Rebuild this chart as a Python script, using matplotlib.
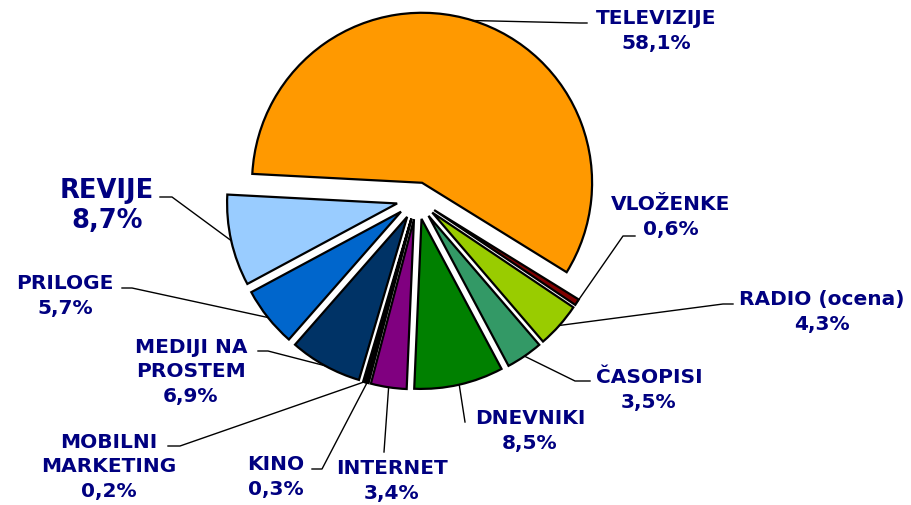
import numpy as np
import matplotlib
matplotlib.use('Agg')
import matplotlib.pyplot as plt

labels = ['TELEVIZIJE', 'VLOŽENKE', 'RADIO (ocena)', 'ČASOPISI', 'DNEVNIKI', 'INTERNET',
          'KINO', 'MOBILNI\nMARKETING', 'MEDIJI NA\nPROSTEM', 'PRILOGE', 'REVIJE']
shares = [58.1, 0.6, 4.3, 3.5, 8.5, 3.4, 0.3, 0.2, 6.9, 5.7, 8.7]
colors = ['#FF9900', '#800000', '#99CC00', '#339966', '#008000', '#800080',
          '#000000', '#111111', '#003366', '#0066CC', '#99CCFF']
explode = [0.1, 0.12, 0.12, 0.12, 0.12, 0.12, 0.12, 0.12, 0.12, 0.12, 0.12]

# label layout in pixels: block centre, elbow of the leader, end of the leader
text_px = [(656, 31), (671, 217), (822, 312), (649, 390), (530, 431), (392, 481),
           (276, 477), (109, 467), (191, 372), (65, 296), (107, 206)]
elbow_px = [(580, 24), (623, 237), (723, 305), (575, 382), (465, 423), (384, 453),
            (322, 470), (180, 447), (268, 352), (132, 289), (172, 198)]
end_px = [(587, 24), (635, 237), (733, 305), (590, 382), (465, 423), (384, 453),
          (312, 470), (168, 447), (258, 352), (122, 289), (160, 198)]

W, H = 912, 506
cx, cy, R = 417, 200, 170  # pie centre and radius in pixels


def to_data(p):
    return ((p[0] - cx) / R, (cy - p[1]) / R)


fig = plt.figure(figsize=(W / 100, H / 100), dpi=100)
ax = fig.add_axes([0, 0, 1, 1])
wedges, _ = ax.pie(shares, colors=colors, explode=explode, startangle=177,
                   counterclock=False, radius=1,
                   wedgeprops=dict(edgecolor='black', linewidth=1.6))
ax.set_xlim(-cx / R, (W - cx) / R)
ax.set_ylim(-(H - cy) / R, cy / R)
ax.set_aspect('equal')
ax.axis('off')

navy = '#000080'
for i, w in enumerate(wedges):
    mid = np.deg2rad((w.theta1 + w.theta2) / 2)
    ox, oy = w.center
    anchor = (ox + w.r * np.cos(mid), oy + w.r * np.sin(mid))
    ex, ey = to_data(elbow_px[i])
    nx, ny = to_data(end_px[i])
    ax.plot([anchor[0], ex, nx], [anchor[1], ey, ny], color='black', lw=1)
    tx, ty = to_data(text_px[i])
    big = labels[i] == 'REVIJE'
    txt = labels[i] + '\n' + ('%.1f%%' % shares[i]).replace('.', ',')
    ax.text(tx, ty, txt, ha='center', va='center', color=navy,
            fontsize=18.5 if big else 14.5, fontweight='heavy',
            family='DejaVu Sans', linespacing=1.2 if big else 1.35)

fig.savefig('out.png', dpi=100)
